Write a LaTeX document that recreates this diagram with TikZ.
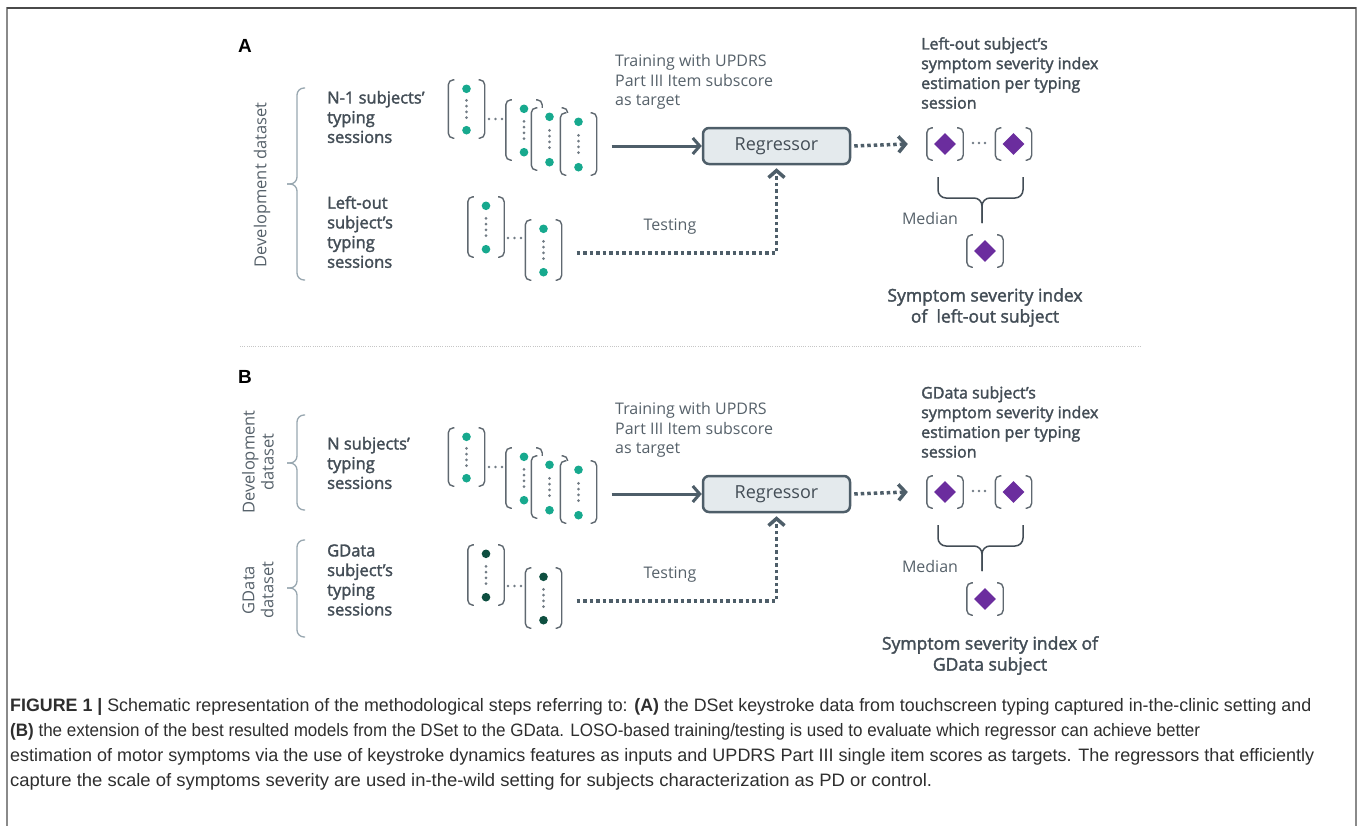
\documentclass[tikz,border=0pt]{standalone}
\usepackage{graphicx}
\usepackage{fontspec}
\setmainfont{Open Sans}
\newfontfamily\sbfont[FakeBold=2]{Open Sans}
\newfontfamily\capfont{Liberation Sans}
\usetikzlibrary{arrows.meta,calc,shapes.geometric}
\definecolor{txt}{HTML}{434D56}
\definecolor{txtl}{HTML}{56616A}
\definecolor{arrc}{HTML}{4E5E69}
\definecolor{regfill}{HTML}{E4EAED}
\definecolor{bracec}{HTML}{98A7B0}
\definecolor{brkc}{HTML}{5F6870}
\definecolor{dotc}{HTML}{717B84}
\definecolor{dteal}{HTML}{17A98E}
\definecolor{ddark}{HTML}{0E4F40}
\definecolor{purp}{HTML}{6B2D9E}
\definecolor{capc}{HTML}{2E2E2E}
\definecolor{framec}{HTML}{8A8A8A}
\definecolor{framet}{HTML}{4A4A4A}

\newcommand\featvec[5]{%
  \node[vecbg, minimum height=#4] (#1) at (#2,#3) {};
  \draw[brk] ($(#1.north west)+(6,0)$) -- (#1.north west) -- (#1.south west) -- ($(#1.south west)+(6,0)$);
  \draw[brk] ($(#1.north east)+(-6,0)$) -- (#1.north east) -- (#1.south east) -- ($(#1.south east)+(-6,0)$);
  \fill[#5] ($(#1.north)+(0,9)$) circle[radius=4.3pt];
  \fill[#5] ($(#1.south)+(0,-8)$) circle[radius=4.3pt];
  \foreach \k in {-1.5,-0.5,0.5,1.5} \fill[dotc] ($(#1.center)+(0,\k*5.8)$) circle[radius=1.5pt];
}
\newcommand\outvec[3]{%
  \node[vecbg, minimum height=32pt] (#1) at (#2,#3) {};
  \draw[brk] ($(#1.north west)+(6,0)$) -- (#1.north west) -- (#1.south west) -- ($(#1.south west)+(6,0)$);
  \draw[brk] ($(#1.north east)+(-6,0)$) -- (#1.north east) -- (#1.south east) -- ($(#1.south east)+(-6,0)$);
  \node[diam] (#1d) at (#1.center) {};
}
\newcommand\tridots[3]{\foreach \k in {0,1,2} \fill[dotc] (#1+\k*#3,#2) circle[radius=1.4pt];}

\newcommand\panelcore[3]{%
  \featvec{#1v1}{466.5}{109+#2}{58}{dteal}
  \tridots{489}{119+#2}{6.5}
  \featvec{#1s1}{524}{130+#2}{60}{dteal}
  \featvec{#1s2}{549.5}{139+#2}{62}{dteal}
  \featvec{#1s3}{578.5}{144+#2}{62}{dteal}
  \featvec{#1l1}{486}{227+#2}{60}{#3}
  \tridots{508}{238+#2}{6.5}
  \featvec{#1l2}{543.5}{250+#2}{60}{#3}
  \node[reg] (#1reg) at (776.5,146+#2) {Regressor};
  \coordinate (#1ts) at ($(#1s3.east)+(15,0)$);
  \draw[trainarr] (#1ts |- #1reg.west) -- (#1reg.west);
  \coordinate (#1te) at ($(#1l2.east)+(15,3)$);
  \coordinate (#1rs) at ($(#1reg.south)+(0,3)$);
  \draw[dotarr] (#1te) -| (#1rs);
  \outvec{#1o1}{945}{144+#2}
  \tridots{973}{143+#2}{6}
  \outvec{#1o2}{1013.5}{144+#2}
  \coordinate (#1os) at ($(#1reg.east)+(3,0)$);
  \coordinate (#1oe) at ($(#1o1.west)+(-19,0)$);
  \draw[dotarr] (#1os) -- (#1oe);
  \draw[medbrace] (938,177+#2) -- (938,198+#2) -- (982,198+#2) -- (982,223+#2);
  \draw[medbrace] (1023,177+#2) -- (1023,198+#2) -- (982,198+#2) -- (982,223+#2);
  \node[lab] (#1med) at (930,218+#2) {Median};
  \outvec{#1om}{985}{251+#2}
  \node[lab] (#1test) at (670,227+#2) {Testing};
  \node[lab, anchor=west, align=left] (#1train) at (615,82+#2) {Training with UPDRS\\Part III Item subscore\\as target};
}

\begin{document}
\begin{tikzpicture}[x=1pt,y=-1pt,
  vecbg/.style={rectangle, fill=white, minimum width=36pt, inner sep=0pt},
  brk/.style={draw=brkc, line width=1.4pt, rounded corners=5pt},
  diam/.style={diamond, fill=purp, inner sep=0pt, minimum width=22pt, minimum height=22pt},
  reg/.style={rectangle, rounded corners=6pt, draw=arrc, line width=2.5pt, fill=regfill, minimum width=147pt, minimum height=36pt, text=txt, font=\fontsize{18}{20}\selectfont},
  trainarr/.style={draw=arrc, line width=3pt, -{Straight Barb[length=7pt,width=16pt]}},
  dotarr/.style={draw=arrc, line width=3.5pt, dash pattern=on 3.5pt off 3pt, -{Straight Barb[length=7pt,width=16pt]}},
  medbrace/.style={draw=txt, line width=1.5pt, rounded corners=8pt},
  lbrace/.style={draw=bracec, line width=1.3pt, rounded corners=7pt},
  lab/.style={text=txtl, font=\fontsize{16}{19.7}\selectfont, inner sep=0pt},
  sblab/.style={text=txt, font=\sbfont\fontsize{16.5}{19.7}\selectfont, inner sep=0pt, align=left},
  ttl/.style={text=txt, font=\sbfont\fontsize{16}{19.7}\selectfont, inner sep=0pt, align=left},
  big/.style={text=txt, font=\sbfont\fontsize{17.5}{21}\selectfont, inner sep=0pt, align=center},
  rot/.style={text=txtl, font=\fontsize{16.5}{19}\selectfont, inner sep=0pt, rotate=90, align=center},
  panl/.style={text=black, font=\capfont\bfseries\fontsize{19}{20}\selectfont, inner sep=0pt, anchor=west},
  capl/.style={text=capc, font=\capfont\fontsize{18}{20}\selectfont, inner sep=0pt, anchor=base west}
]
\useasboundingbox (0,0) rectangle (1358,825);
\draw[framec, line width=1.6pt] (7,826) -- (7,8) -- (1356,8) -- (1356,826);
\draw[framet, line width=1.6pt] (7,8) -- (1356,8);

% Panel A
\node[panl] (labA) at (238,46) {A};
\node[rot] (devA) at (262,185) {Development dataset};
\draw[lbrace] (305,88) -- (297,88) -- (297,184) -- (287,184);
\draw[lbrace] (305,280) -- (297,280) -- (297,184) -- (287,184);
\node[sblab, anchor=west] (nsubA) at (327,117) {N-1 subjects’\\typing\\sessions};
\node[sblab, anchor=west] (loA) at (327,232) {Left-out\\subject’s\\typing\\sessions};
\panelcore{A}{0}{dteal}
\node[ttl, anchor=west] (titA) at (921,73) {Left-out subject’s\\symptom severity index\\estimation per typing\\session};
\node[big] (resA) at (985,307.5) {Symptom severity index\\of\ \ left-out subject};

% separator
\draw[gray!45, line width=0.7pt, dash pattern=on 1pt off 1.2pt] (240,346) -- (1140,346);

% Panel B
\node[panl] (labB) at (238,377) {B};
\node[rot] (devB) at (258,462) {Development\\dataset};
\draw[lbrace] (305,415) -- (297,415) -- (297,463) -- (287,463);
\draw[lbrace] (305,510) -- (297,510) -- (297,463) -- (287,463);
\node[rot] (gdB) at (258,590) {GData\\dataset};
\draw[lbrace] (305,540) -- (297,540) -- (297,588) -- (287,588);
\draw[lbrace] (305,637) -- (297,637) -- (297,588) -- (287,588);
\node[sblab, anchor=west] (nsubB) at (327,463) {N subjects’\\typing\\sessions};
\node[sblab, anchor=west] (gsubB) at (327,580) {GData\\subject’s\\typing\\sessions};
\panelcore{B}{348}{ddark}
\node[ttl, anchor=west] (titB) at (921,422) {GData subject’s\\symptom severity index\\estimation per typing\\session};
\node[big] (resB) at (990,655.5) {Symptom severity index of\\GData subject};

% caption
\node[capl] (c1) at (10,711) {\resizebox{1301pt}{\height}{\textbf{FIGURE 1 |} Schematic representation of the methodological steps referring to: \textbf{(A)} the DSet keystroke data from touchscreen typing captured in-the-clinic setting and}};
\node[capl] (c2) at (10,736) {\resizebox{1190pt}{\height}{\textbf{(B)} the extension of the best resulted models from the DSet to the GData. LOSO-based training/testing is used to evaluate which regressor can achieve better}};
\node[capl] (c3) at (10,761) {\resizebox{1304pt}{\height}{estimation of motor symptoms via the use of keystroke dynamics features as inputs and UPDRS Part III single item scores as targets. The regressors that efficiently}};
\node[capl] (c4) at (10,786) {\resizebox{922pt}{\height}{capture the scale of symptoms severity are used in-the-wild setting for subjects characterization as PD or control.}};
\end{tikzpicture}
\end{document}
